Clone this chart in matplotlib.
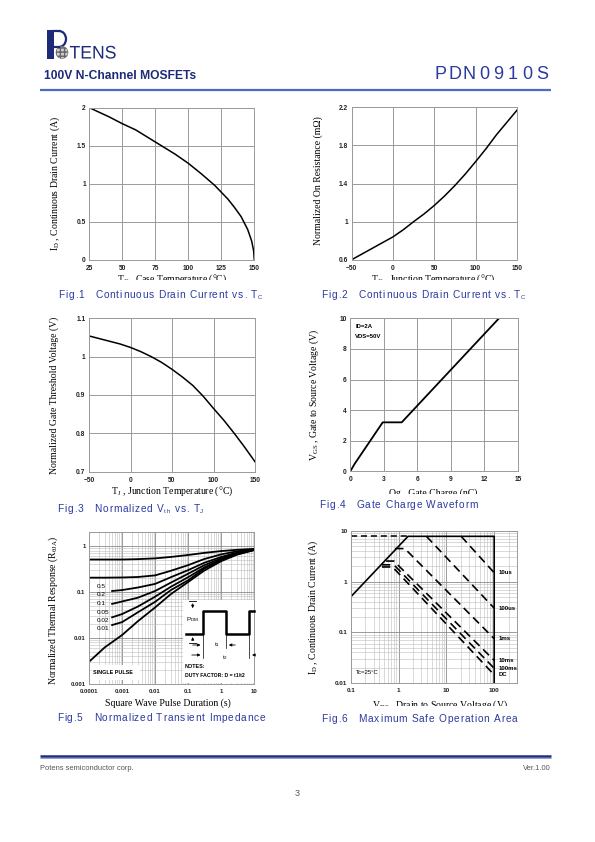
import numpy as np
import matplotlib
matplotlib.use('Agg')
import matplotlib.pyplot as plt
from matplotlib.patches import Rectangle, Circle, Arc, PathPatch
from matplotlib.textpath import TextPath
from matplotlib.transforms import Affine2D
from matplotlib.font_manager import FontProperties
from matplotlib.ticker import LogLocator, NullFormatter

plt.rcParams['mathtext.default'] = 'regular'

W, H = 595, 842

# ---- data ----
# Fig.1 ID vs Tc
tc1 = [25, 40, 50, 60, 75, 90, 100, 110, 120, 125, 130, 135, 140, 145, 148, 149.5, 150]
id1 = [2.0, 1.88, 1.79, 1.71, 1.55, 1.39, 1.27, 1.13, 0.98, 0.89, 0.80, 0.69, 0.57, 0.40, 0.25, 0.12, 0.0]
xt1 = [25, 50, 75, 100, 125, 150]
yt1 = [0, 0.5, 1, 1.5, 2]
ytl1 = ['0', '0.5', '1', '1.5', '2']

# Fig.2 normalized Ron vs Tj
tj2 = [-50, -37.5, -25, -12.5, 0, 12.5, 25, 37.5, 50, 62.5, 75, 87.5, 100, 112.5, 125, 137.5, 150]
ron2 = [0.60, 0.66, 0.72, 0.78, 0.84, 0.915, 1.00, 1.08, 1.17, 1.27, 1.38, 1.50, 1.63, 1.765,
        1.91, 2.04, 2.17]
xt2 = [-50, 0, 50, 100, 150]
yt2 = [0.6, 1.0, 1.4, 1.8, 2.2]
ytl2 = ['0.6', '1', '1.4', '1.8', '2.2']

# Fig.3 normalized Vth vs Tj
tj3 = [-50, -37.5, -25, -12.5, 0, 12.5, 25, 37.5, 50, 62.5, 75, 87.5, 100, 112.5, 125, 137.5, 150]
vth3 = [1.054, 1.047, 1.040, 1.033, 1.024, 1.013, 1.000, 0.985, 0.967, 0.947, 0.925, 0.897,
        0.865, 0.834, 0.800, 0.764, 0.726]
xt3 = [-50, 0, 50, 100, 150]
yt3 = [0.7, 0.8, 0.9, 1.0, 1.1]
ytl3 = ['0.7', '0.8', '0.9', '1', '1.1']

# Fig.4 gate charge
qg4 = [0, 0.4, 2.9, 4.6, 13.3]
vgs4 = [0, 0.5, 3.2, 3.2, 10]
xt4 = [0, 3, 6, 9, 12, 15]
yt4 = [0, 2, 4, 6, 8, 10]

# Fig.5 transient thermal impedance
t5a = [1e-4, 3e-4, 1e-3, 3e-3, 1e-2, 3e-2, 0.1, 0.3, 1, 3, 10]
t5b = [5e-4, 1e-3, 3e-3, 1e-2, 3e-2, 0.1, 0.3, 1, 3, 10]
z_d05 = [0.51, 0.51, 0.51, 0.52, 0.54, 0.58, 0.64, 0.71, 0.78, 0.83, 0.87]
z_d02 = [0.205, 0.205, 0.207, 0.212, 0.23, 0.29, 0.385, 0.52, 0.66, 0.77, 0.85]
z_d01 = [0.105, 0.11, 0.125, 0.15, 0.21, 0.30, 0.43, 0.58, 0.72, 0.84]
z_d005 = [0.055, 0.062, 0.075, 0.105, 0.16, 0.25, 0.38, 0.54, 0.70, 0.84]
z_d002 = [0.028, 0.033, 0.048, 0.079, 0.13, 0.21, 0.34, 0.51, 0.68, 0.83]
z_d001 = [0.019, 0.022, 0.036, 0.061, 0.11, 0.18, 0.32, 0.50, 0.67, 0.83]
z_single = [0.003, 0.0062, 0.0115, 0.023, 0.046, 0.09, 0.165, 0.29, 0.47, 0.65, 0.82]
duty_labels = ['0.5', '0.2', '0.1', '0.05', '0.02', '0.01']
xt5 = [1e-4, 1e-3, 1e-2, 1e-1, 1, 10]
xtl5 = ['0.0001', '0.001', '0.01', '0.1', '1', '10']
yt5 = [1e-3, 1e-2, 1e-1, 1]
ytl5 = ['0.001', '0.01', '0.1', '1']

# Fig.6 SOA
vb6 = [0.1, 1.58, 100, 100]
ib6 = [0.5, 7.85, 7.85, 0.01]
vlim6 = [0.1, 1.58]
ilim6 = [7.85, 7.85]
soa_names = ['10us', '100us', '1ms', '10ms', '100ms', 'DC']
soa_v = [[20.4, 100], [3.83, 100], [0.85, 1.35, 100], [0.55, 0.8, 100],
         [0.45, 0.8, 100], [0.45, 0.75, 100]]
soa_i = [[7.85, 1.5], [7.85, 0.30], [4.5, 4.5, 0.075], [2.55, 2.55, 0.028],
         [2.15, 2.15, 0.0195], [1.95, 1.95, 0.0145]]
xt6 = [0.1, 1, 10, 100]
xtl6 = ['0.1', '1', '10', '100']
yt6 = [0.01, 0.1, 1, 10]
ytl6 = ['0.01', '0.1', '1', '10']

fig = plt.figure(figsize=(W / 100, H / 100), dpi=100)
fig.patch.set_facecolor('white')

GRID = '#9a9a9a'
BLUE = '#2b3aa0'
NAVY = '#1c2a78'


def add_ax(x0, x1, y0, y1):
    ax = fig.add_axes([x0 / W, 1 - y1 / H, (x1 - x0) / W, (y1 - y0) / H])
    for s in ax.spines.values():
        s.set_color(GRID)
        s.set_linewidth(0.7)
    ax.tick_params(length=0, labelsize=4.8, colors='#222222')
    ax.tick_params(axis='x', pad=3.5)
    ax.tick_params(axis='y', pad=2.5)
    return ax


def lin_style(ax):
    ax.grid(True, color=GRID, lw=0.7)
    ax.set_axisbelow(True)
    for lab in ax.get_xticklabels() + ax.get_yticklabels():
        lab.set_fontweight('bold')
        lab.set_family('Liberation Sans')


# Fig.1
ax1 = add_ax(89.3, 254.3, 107.7, 260)
ax1.plot(tc1, id1, color='black', lw=1.1)
ax1.set_xlim(25, 150)
ax1.set_ylim(0, 2)
ax1.set_xticks(xt1)
ax1.set_yticks(yt1, ytl1)
lin_style(ax1)

# Fig.2
ax2 = add_ax(351.7, 517, 107.3, 259.7)
ax2.plot(tj2, ron2, color='black', lw=1.1)
ax2.set_xlim(-50, 150)
ax2.set_ylim(0.6, 2.2)
ax2.set_xticks(xt2)
ax2.set_yticks(yt2, ytl2)
lin_style(ax2)

# Fig.3
ax3 = add_ax(89, 255, 318.3, 471.7)
ax3.plot(tj3, vth3, color='black', lw=1.1)
ax3.set_xlim(-50, 150)
ax3.set_ylim(0.7, 1.1)
ax3.set_xticks(xt3)
ax3.set_yticks(yt3, ytl3)
lin_style(ax3)

# Fig.4
ax4 = add_ax(350.3, 518, 318.3, 471.3)
ax4.plot(qg4, vgs4, color='black', lw=1.3)
ax4.set_xlim(0, 15)
ax4.set_ylim(0, 10)
ax4.set_xticks(xt4)
ax4.set_yticks(yt4)
lin_style(ax4)
ax4.text(0.03, 0.96, 'ID=2A', transform=ax4.transAxes, fontsize=4.3,
         fontweight='bold', va='top', family='Liberation Sans')
ax4.text(0.03, 0.90, 'VDS=50V', transform=ax4.transAxes, fontsize=4.3,
         fontweight='bold', va='top', family='Liberation Sans')


def log_style(ax, xt, xtl, yt, ytl, size):
    ax.set_xscale('log')
    ax.set_yscale('log')
    ax.xaxis.set_minor_locator(LogLocator(base=10, subs=np.arange(2, 10)))
    ax.yaxis.set_minor_locator(LogLocator(base=10, subs=np.arange(2, 10)))
    ax.xaxis.set_minor_formatter(NullFormatter())
    ax.yaxis.set_minor_formatter(NullFormatter())
    ax.set_xticks(xt, xtl)
    ax.set_yticks(yt, ytl)
    ax.grid(True, which='major', color='#8a8a8a', lw=0.6)
    ax.grid(True, which='minor', color='#bdbdbd', lw=0.4)
    ax.tick_params(which='both', length=0, labelsize=size)
    ax.set_axisbelow(True)
    for lab in ax.get_xticklabels() + ax.get_yticklabels():
        lab.set_fontweight('bold')
        lab.set_family('Liberation Sans')


# Fig.5
ax5 = add_ax(89, 254.3, 532.3, 683.7)
ax5.plot(t5a, z_d05, color='black', lw=1.3)
ax5.plot(t5a, z_d02, color='black', lw=1.3)
for z in (z_d01, z_d005, z_d002, z_d001):
    ax5.plot(t5b, z, color='black', lw=1.3)
ax5.plot(t5a, z_single, color='black', lw=1.3)
ax5.set_xlim(1e-4, 10)
ax5.set_ylim(1e-3, 2)
log_style(ax5, xt5, xtl5, yt5, ytl5, 4.3)

# Fig.6
ax6 = add_ax(350.7, 517, 531, 683)
ax6.plot(vb6, ib6, color='black', lw=1.2)
ax6.plot(vlim6, ilim6, color='black', lw=1.1, ls=(0, (4, 2.5)))
for v, i in zip(soa_v, soa_i):
    ax6.plot(v, i, color='black', lw=1.2, ls=(0, (5, 3)))
for name, i in zip(soa_names, soa_i):
    ax6.annotate(name, (100, i[-1]), xytext=(3, 0), textcoords='offset points',
                 fontsize=4.3, fontweight='bold', va='center', family='Liberation Sans')
ax6.set_xlim(0.1, 300)
ax6.set_ylim(0.01, 10)
log_style(ax6, xt6, xtl6, yt6, ytl6, 4.6)
ax6.text(0.03, 0.05, 'Tc=25\u00b0C', transform=ax6.transAxes, fontsize=4.3,
         va='bottom', family='Liberation Sans')

# ---- page overlay in pixel coordinates ----
pg = fig.add_axes([0, 0, 1, 1], zorder=20)
pg.set_xlim(0, W)
pg.set_ylim(H, 0)
pg.axis('off')

SERIF = 'Liberation Serif'


def ylab(x, y, s):
    pg.text(x, y, s, rotation=90, ha='center', va='center', fontsize=7, family=SERIF)


def xlab(x, y, s, clip=None):
    t = pg.text(x, y, s, ha='center', va='baseline', fontsize=7, family=SERIF)
    if clip is not None:
        r = Rectangle((0, 0), W, clip, transform=pg.transData)
        t.set_clip_path(r)
        t.set_clip_on(True)


ylab(55, 183, 'I$_{D}$ , Continuous Drain Current (A)')
xlab(172, 282, 'T$_{C}$ , Case Temperature (\u00b0C)', clip=280)
ylab(318, 181, 'Normalized On Resistance (m\u03a9)')
xlab(433, 282, 'T$_{C}$ , Junction Temperature (\u00b0C)', clip=280)
ylab(54, 395, 'Normalized Gate Threshold Voltage (V)')
xlab(172, 494, 'T$_{J}$ , Junction Temperature (\u00b0C)')
ylab(314, 395, 'V$_{GS}$ , Gate to Source Voltage (V)')
xlab(433, 496, 'Qg , Gate Charge (nC)', clip=494)
ylab(53, 610, r'Normalized Thermal Response (R$_{\theta JA}$)')
xlab(168, 706, 'Square Wave Pulse Duration (s)')
ylab(313, 607, 'I$_{D}$ , Continuous Drain Current (A)')
xlab(440, 708, 'V$_{DS}$ , Drain to Source Voltage (V)', clip=706)

# duty cycle labels in Fig.5
for k, lab in enumerate(duty_labels):
    pg.text(96.5, [586, 594.5, 603.3, 612.5, 620.5, 628.5][k], lab, fontsize=4.6,
            va='center', family='Liberation Sans')

# single pulse box
pg.add_patch(Rectangle((91.5, 665), 48, 15, facecolor='white', edgecolor='none'))
pg.text(113, 672.5, 'SINGLE PULSE', fontsize=3.9, fontweight='bold', ha='center',
        va='center', family='Liberation Sans')

# duty factor inset
pg.add_patch(Rectangle((183, 600), 71, 82.5, facecolor='white', edgecolor='none'))
pg.plot([186, 203.3, 203.3, 226, 226, 249.3, 249.3, 253.5],
        [634.3, 634.3, 611, 611, 634.3, 634.3, 611, 611], color='black', lw=1.8)
arr = dict(arrowstyle='-|>', color='black', lw=0.6, mutation_scale=4)
pg.annotate('', (192.7, 611), (192.7, 601), arrowprops=arr)
pg.annotate('', (192.7, 634.3), (192.7, 643), arrowprops=arr)
pg.plot([189, 196], [601, 601], color='black', lw=0.6)
pg.plot([189, 196], [643, 643], color='black', lw=0.6)
pg.text(186.5, 620, 'P$_{DM}$', fontsize=4.6, va='center', family='Liberation Sans')
for xx, y2 in ((203.3, 658), (226, 648), (249.3, 658)):
    pg.plot([xx, xx], [635, y2], color='black', lw=0.5)
pg.annotate('', (203.3, 645), (190, 645), arrowprops=arr)
pg.annotate('', (226, 645), (238, 645), arrowprops=arr)
pg.annotate('', (203.3, 655), (189, 655), arrowprops=arr)
pg.annotate('', (249.3, 655), (257, 655), arrowprops=arr)
pg.text(214, 644.5, 't$_{1}$', fontsize=4.6, va='center', family='Liberation Sans')
pg.text(222, 657.5, 't$_{2}$', fontsize=4.6, va='center', family='Liberation Sans')
pg.text(185, 666.5, 'NOTES:', fontsize=3.9, fontweight='bold', va='center',
        family='Liberation Sans')
pg.text(185, 675.5, 'DUTY FACTOR: D = t1/t2', fontsize=3.7, fontweight='bold',
        va='center', family='Liberation Sans')


# captions with letter spacing
def spaced(x, y, segs, size, color, track):
    r = fig.canvas.get_renderer()
    for s, sub in segs:
        fs = size * 0.6 if sub else size
        yy = y + 1.5 if sub else y
        for ch in s:
            if ch == ' ':
                w = fs * 1.389 * 0.278
            else:
                t = pg.text(x, yy, ch, fontsize=fs, color=color, ha='left',
                            va='baseline', family='Liberation Sans')
                w = t.get_window_extent(r).width
            x += w + track


CAP = 7.3
TR = 0.75
spaced(58.5, 297.5, [('Fig.1   Continuous Drain Current vs. T', 0), ('C', 1)], CAP, BLUE, TR)
spaced(321.5, 297.5, [('Fig.2   Continuous Drain Current vs. T', 0), ('C', 1)], CAP, BLUE, TR)
spaced(57.5, 511.5, [('Fig.3   Normalized V', 0), ('th', 1), (' vs. T', 0), ('J', 1)], CAP, BLUE, TR)
spaced(319.5, 508.5, [('Fig.4   Gate Charge Waveform', 0)], CAP, BLUE, TR)
spaced(57, 721, [('Fig.5   Normalized Transient Impedance', 0)], CAP, BLUE, TR)
spaced(321.5, 721.5, [('Fig.6   Maximum Safe Operation Area', 0)], CAP, BLUE, TR)

# header
pg.add_patch(Rectangle((47, 30), 7, 29, facecolor=NAVY, edgecolor='none'))
pg.plot([53, 59], [31, 31], color=NAVY, lw=1.6)
pg.plot([53, 59], [47, 47], color=NAVY, lw=1.6)
pg.add_patch(Arc((59, 39), 14, 16, theta1=-90, theta2=90, color=NAVY, lw=1.6))
pg.add_patch(Circle((62, 52.5), 6, facecolor='#d0d0d0', edgecolor='#666666',
                    hatch='++++', lw=0.4))
tp = TextPath((0, 0), 'TENS', size=1, prop=FontProperties(family='Liberation Sans'))
pg.add_patch(PathPatch(tp, transform=Affine2D().scale(17.6, -18.2).translate(69.5, 58.5)
                       + pg.transData, facecolor=NAVY, edgecolor='none'))

pg.text(44, 76, '100V N-Channel MOSFETs', fontsize=8.7, fontweight='bold', color=NAVY,
        va='center', family='Liberation Sans')
for k, ch in enumerate('PDN0910S'):
    pg.text(440.5 + k * 14.5, 79, ch, fontsize=13, color=BLUE, ha='center',
            va='baseline', family='Liberation Sans')
pg.plot([40, 551], [90, 90], color='#4a6cc4', lw=1.6, solid_capstyle='butt')

# footer
pg.plot([40, 551], [756, 756], color='#1f2d84', lw=1.8, solid_capstyle='butt')
pg.plot([40, 551], [757.6, 757.6], color='#7a8ed0', lw=0.6, solid_capstyle='butt')
pg.text(40, 769, 'Potens semiconductor corp.', fontsize=5.4, color='#555555',
        va='center', family='Liberation Sans')
pg.text(551, 769, 'Ver.1.00', fontsize=5.4, color='#555555', ha='right',
        va='center', family='Liberation Sans')
pg.text(297, 793, '3', fontsize=6.5, color='#555555', ha='center', va='center',
        family='Liberation Sans')

fig.savefig('out.png', dpi=100)
